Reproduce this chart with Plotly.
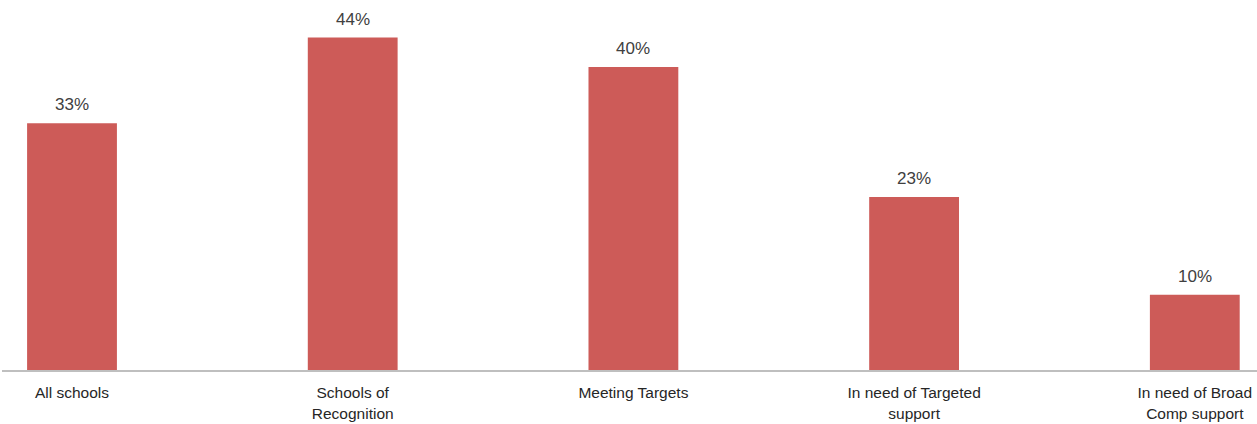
import plotly.graph_objects as go

categories = ["All schools", "Schools of<br>Recognition", "Meeting Targets",
              "In need of Targeted<br>support", "In need of Broad<br>Comp support"]
values = [32.8, 44.2, 40.3, 23.0, 10.0]
labels = ["33%", "44%", "40%", "23%", "10%"]

BAR = "#CD5B58"
TXT = "#404040"
FONT = "Liberation Sans, Arial"

fig = go.Figure()
fig.add_trace(go.Bar(
    x=list(range(len(categories))), y=values,
    marker=dict(color=BAR, line=dict(width=0)),
    width=0.32, hoverinfo="skip",
))
for i, (v, t) in enumerate(zip(values, labels)):
    fig.add_annotation(x=i, y=v, text=t, showarrow=False, yanchor="bottom",
                       yshift=7, font=dict(family=FONT, size=17, color=TXT))

fig.update_layout(
    width=1257, height=424,
    margin=dict(l=2, r=0, t=0, b=54),
    paper_bgcolor="white", plot_bgcolor="white",
    showlegend=False,
    font=dict(family=FONT, size=15.5, color=TXT),
    xaxis=dict(
        tickmode="array", tickvals=list(range(len(categories))), ticktext=categories,
        range=[-0.2494, 4.2216], showgrid=False, zeroline=False,
        showline=True, linecolor="#BFBFBF", linewidth=1.5,
        ticks="", ticklabelstandoff=8, tickfont=dict(size=15.5, color="#262626"),
    ),
    yaxis=dict(range=[0, 49.2], visible=False, showgrid=False, zeroline=False),
)
fig.write_html("out.html", config={"displayModeBar": False},
               post_script="document.body.style.margin='0';")
